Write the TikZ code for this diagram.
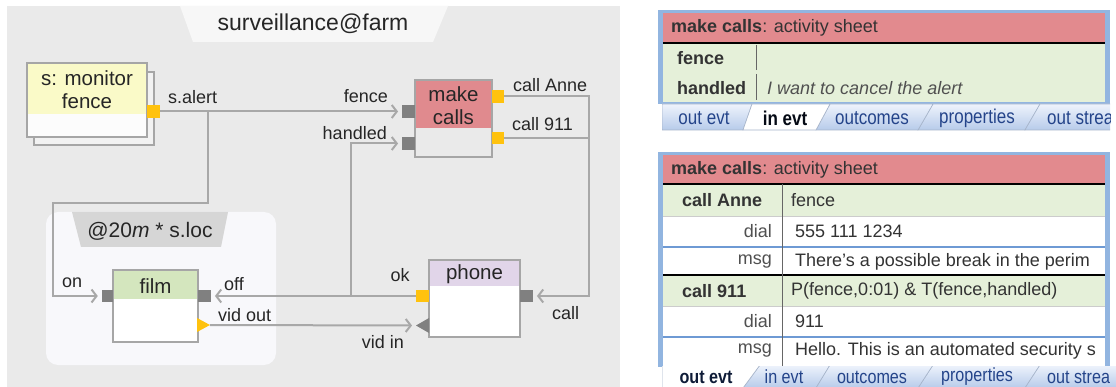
\documentclass[tikz,border=0pt]{standalone}
\usepackage{fontspec}
\setmainfont{Liberation Sans}
\newfontfamily\tabfont[FakeStretch=0.85]{Liberation Sans}
\usetikzlibrary{arrows.meta}
\definecolor{bggray}{HTML}{EAEAEA}
\definecolor{titlebg}{HTML}{F7F7F7}
\definecolor{bordergray}{HTML}{A6A6A6}
\definecolor{conngray}{HTML}{A8A8A8}
\definecolor{portorange}{HTML}{FFC20E}
\definecolor{portgray}{HTML}{808080}
\definecolor{monyellow}{HTML}{FAFAC8}
\definecolor{callpink}{HTML}{E08A8E}
\definecolor{filmgreen}{HTML}{D4E6BE}
\definecolor{phonepurple}{HTML}{E1D5E9}
\definecolor{groupbg}{HTML}{F8F8FB}
\definecolor{grouptab}{HTML}{D6D6D6}
\definecolor{sheetblue}{HTML}{92B5E0}
\definecolor{sheetpink}{HTML}{E28A8E}
\definecolor{sheetgreen}{HTML}{E5F0D9}
\definecolor{sheetline}{HTML}{6E9AD4}
\definecolor{tabtop}{HTML}{EEF3FC}
\definecolor{tabbot}{HTML}{B7CBEA}
\definecolor{tabtext}{HTML}{24448A}
\definecolor{textdark}{HTML}{262626}
\definecolor{celltext}{HTML}{333333}
\definecolor{keytext}{HTML}{505050}
\tikzset{
  unit/.style n args={3}{rectangle, draw=bordergray, line width=2pt, fill=#3, inner sep=0pt,
    path picture={\fill[#1] (path picture bounding box.north west) rectangle ([yshift=-#2]path picture bounding box.north east);}},
  port/.style={rectangle, minimum size=12.5pt, inner sep=0pt, fill=#1},
  conn/.style={draw=conngray, line width=2pt},
  arr/.style={-{Straight Barb[length=5pt,width=13pt]}, shorten >=4pt},
  title/.style={font=\fontsize{20.5}{23}\selectfont, text=textdark, inner sep=0pt, align=center},
  lbl/.style={font=\fontsize{18}{20}\selectfont, text=textdark, inner sep=0pt},
  cell/.style={font=\fontsize{18}{20}\selectfont, text=celltext, inner sep=0pt, anchor=west},
  key/.style={font=\fontsize{18}{20}\selectfont, text=keytext, inner sep=0pt, anchor=east},
  tabtxt/.style={font=\tabfont\fontsize{20}{22}\selectfont, text=tabtext, inner sep=0pt},
  tabshape/.style={top color=tabtop, bottom color=tabbot, draw=tabbot!70!gray, line width=0.6pt},
  tabactive/.style={fill=white, draw=tabbot!70!gray, line width=0.6pt},
}
\begin{document}
\begin{tikzpicture}[x=1pt,y=-1pt]
\useasboundingbox (0,0) rectangle (1116,387);
\fill[white] (0,0) rectangle (1116,387);

% ---------- left panel ----------
\fill[bggray] (7,6) rectangle (620,387);
\fill[titlebg] (180,6) -- (448,6) -- (433,42) -- (193,42) -- cycle;
\node[title, font=\fontsize{23}{25}\selectfont] (ttl) at (313,24) {surveillance@farm};

% group box
\fill[groupbg, rounded corners=12pt] (46,212) rectangle (276,365);
\fill[grouptab] (72,212) -- (228,212) -- (221,247) -- (81,247) -- cycle;
\node[title, font=\fontsize{21}{23}\selectfont] (grp) at (150,231) {@20\textit{m} * s.loc};

% units
\node[rectangle, draw=bordergray, line width=2pt, fill=bggray!60!white, minimum width=120pt, minimum height=73pt] (monshadow) at (94,108.5) {};
\node[unit={monyellow}{51pt}{white!98!gray}, minimum width=120pt, minimum height=74pt] (mon) at (87,100) {};
\node[title] (montxt) at (87,89.5) {s: monitor\\fence};

\node[unit={callpink}{48pt}{bggray}, minimum width=77pt, minimum height=77pt] (calls) at (453.5,118.5) {};
\node[title] (callstxt) at (453.5,105.5) {make\\calls};

\node[unit={filmgreen}{29pt}{white}, minimum width=85pt, minimum height=72pt] (film) at (155.5,306) {};
\node[title] (filmtxt) at (155.5,286) {film};

\node[unit={phonepurple}{26pt}{white}, minimum width=91pt, minimum height=77pt] (phone) at (474.5,298.5) {};
\node[title] (phonetxt) at (474.5,274) {phone};

% ports
\node[port=portorange] (pAlert) at (153.5,111.5) {};
\node[port=portgray] (pFence) at (408.5,111.5) {};
\node[port=portgray] (pHandled) at (408.5,143.5) {};
\node[port=portorange, minimum width=12pt] (pAnne) at (498,96.5) {};
\node[port=portorange, minimum width=12pt] (p911) at (498,138) {};
\node[port=portgray, minimum width=11pt] (pOn) at (107.5,296) {};
\node[port=portgray] (pOff) at (204.5,296) {};
\node[port=portorange] (pOk) at (422.5,296) {};
\node[port=portgray] (pCall) at (526.5,296) {};
\coordinate (vout) at (210,325);
\coordinate (vin) at (416,325.5);
\fill[portorange] (197,318) -- (vout) -- (197,332) -- cycle;
\fill[portgray] (429,318) -- (vin) -- (429,333) -- cycle;

% connector helper points
\coordinate (j1) at (208,111.5);
\coordinate (b1) at (53,203);
\coordinate (j2) at (351,296);
\coordinate (b2) at (589,296);

% connectors
\draw[conn,arr] (pAlert.east) -- (pFence.west);
\draw[conn,arr] (j1) |- (b1) |- (pOn.west);
\draw[conn,arr] (pOk.west) -- (pOff.east);
\draw[conn,arr] (j2) |- (pHandled.west);
\draw[conn,arr] (pAnne.east) -| (b2) -- (pCall.east);
\draw[conn] (p911.east) -- (p911.east -| b2);
\draw[conn,arr] (vout) -- (vin);

% labels
\node[lbl, anchor=west] (lAlert) at (168,97) {s.alert};
\node[lbl, anchor=east] (lFence) at (388,96) {fence};
\node[lbl, anchor=east] (lHandled) at (387,133) {handled};
\node[lbl, anchor=west] (lAnne) at (513,85) {call Anne};
\node[lbl, anchor=west] (l911) at (512,124) {call 911};
\node[lbl] (lOk) at (400,275) {ok};
\node[lbl, anchor=west] (lCall) at (552,313) {call};
\node[lbl] (lVidIn) at (383,342) {vid in};
\node[lbl, anchor=west] (lVidOut) at (218,315) {vid out};
\node[lbl, anchor=west] (lOff) at (224,284) {off};
\node[lbl, anchor=west] (lOn) at (62,283) {on};

% ---------- top activity sheet ----------
\fill[sheetblue] (658,10) rectangle (1110,104);
\fill[sheetpink] (663,13) rectangle (1105,42);
\fill[sheetgreen] (663,43) rectangle (1105,102);
\draw[black, line width=1.5pt] (663,43) -- (1105,43);
\draw[gray!80!black, line width=0.8pt] (756,45) -- (756,70) (756,74) -- (756,100);
\begin{scope}
\clip (663,10) rectangle (1105,104);
\node[cell] (h1) at (671,28) {\textbf{make calls}: activity sheet};
\node[cell, font=\bfseries\fontsize{18}{20}\selectfont] (k1) at (677,58) {fence};
\node[cell, font=\bfseries\fontsize{18}{20}\selectfont] (k2) at (677,88) {handled};
\node[cell, text=keytext, font=\itshape\fontsize{18}{20}\selectfont] (v2) at (767,88) {I want to cancel the alert};
\end{scope}
% tabs
\begin{scope}
\clip (662,104) rectangle (1110,131);
\fill[white] (662,104) rectangle (1110,131);
\path[tabshape] (662,130) -- (662,104) -- (752,104) -- (743,130) -- cycle;
\path[tabshape] (918,130) -- (933,104) -- (1040,104) -- (1025,130) -- cycle;
\path[tabshape] (1025,130) -- (1040,104) -- (1120,104) -- (1120,130) -- cycle;
\path[tabshape] (816,130) -- (830,104) -- (933,104) -- (918,130) -- cycle;
\path[tabactive] (743,130) -- (752,104) -- (830,104) -- (816,130) -- cycle;
\node[tabtxt] (t1a) at (704,118) {out evt};
\node[tabtxt, text=black!85!tabtext, font=\tabfont\bfseries\fontsize{20}{22}\selectfont] (t1b) at (785,118) {in evt};
\node[tabtxt] (t1c) at (872,118) {outcomes};
\node[tabtxt] (t1d) at (977,118) {properties};
\node[tabtxt, anchor=west] (t1e) at (1047,118) {out strea};
\end{scope}

% ---------- bottom activity sheet ----------
\fill[sheetblue] (658,152) rectangle (1110,367);
\fill[sheetpink] (663,155) rectangle (1105,183);
\fill[sheetgreen] (663,184) rectangle (1105,216);
\fill[white] (663,216) rectangle (1105,275);
\fill[sheetgreen] (663,275) rectangle (1105,306);
\fill[white] (663,306) rectangle (1105,367);
\draw[black, line width=1.5pt] (663,184) -- (1105,184);
\draw[black, line width=1.5pt] (663,275) -- (1105,275);
\draw[sheetline, line width=1.5pt] (663,247) -- (1105,247);
\draw[sheetline, line width=1.5pt] (663,337) -- (1105,337);
\draw[gray!40, line width=0.6pt] (663,216) -- (1105,216) (663,306) -- (1105,306);
\draw[gray!80!black, line width=0.8pt] (782,184) -- (782,367);
\begin{scope}
\clip (663,152) rectangle (1105,367);
\node[cell] (h2) at (671,170) {\textbf{make calls}: activity sheet};
\node[cell, font=\bfseries\fontsize{18}{20}\selectfont] (r1k) at (682,200) {call Anne};
\node[cell] (r1v) at (791,200) {fence};
\node[key] (r2k) at (772,231) {dial};
\node[cell] (r2v) at (795,231) {555 111 1234};
\node[key] (r3k) at (772,262) {msg};
\node[cell] (r3v) at (795,262) {There's a possible break in the perim};
\node[cell, font=\bfseries\fontsize{18}{20}\selectfont] (r4k) at (682,291) {call 911};
\node[cell] (r4v) at (791,291) {P(fence,0:01) \& T(fence,handled)};
\node[key] (r5k) at (772,321) {dial};
\node[cell] (r5v) at (795,321) {911};
\node[key] (r6k) at (772,351) {msg};
\node[cell] (r6v) at (795,351) {Hello. This is an automated security s};
\end{scope}
\begin{scope}
\clip (662,366) rectangle (1116,387);
\path[tabshape] (743,388) -- (760,365) -- (830,365) -- (816,388) -- cycle;
\path[tabshape] (918,388) -- (933,365) -- (1040,365) -- (1025,388) -- cycle;
\path[tabshape] (1025,388) -- (1040,365) -- (1120,365) -- (1120,388) -- cycle;
\path[tabshape] (816,388) -- (830,365) -- (933,365) -- (918,388) -- cycle;
\path[tabactive] (662,388) -- (662,365) -- (760,365) -- (743,388) -- cycle;
\node[tabtxt, text=black!60!tabtext, font=\tabfont\bfseries\fontsize{19}{21}\selectfont] (t2a) at (706,377) {out evt};
\node[tabtxt, font=\tabfont\fontsize{19}{21}\selectfont] (t2b) at (784,377) {in evt};
\node[tabtxt, font=\tabfont\fontsize{19}{21}\selectfont] (t2c) at (872,377) {outcomes};
\node[tabtxt, font=\tabfont\fontsize{19}{21}\selectfont] (t2d) at (977,377) {properties};
\node[tabtxt, font=\tabfont\fontsize{19}{21}\selectfont, anchor=west] (t2e) at (1047,377) {out strea};
\end{scope}
\end{tikzpicture}
\end{document}
